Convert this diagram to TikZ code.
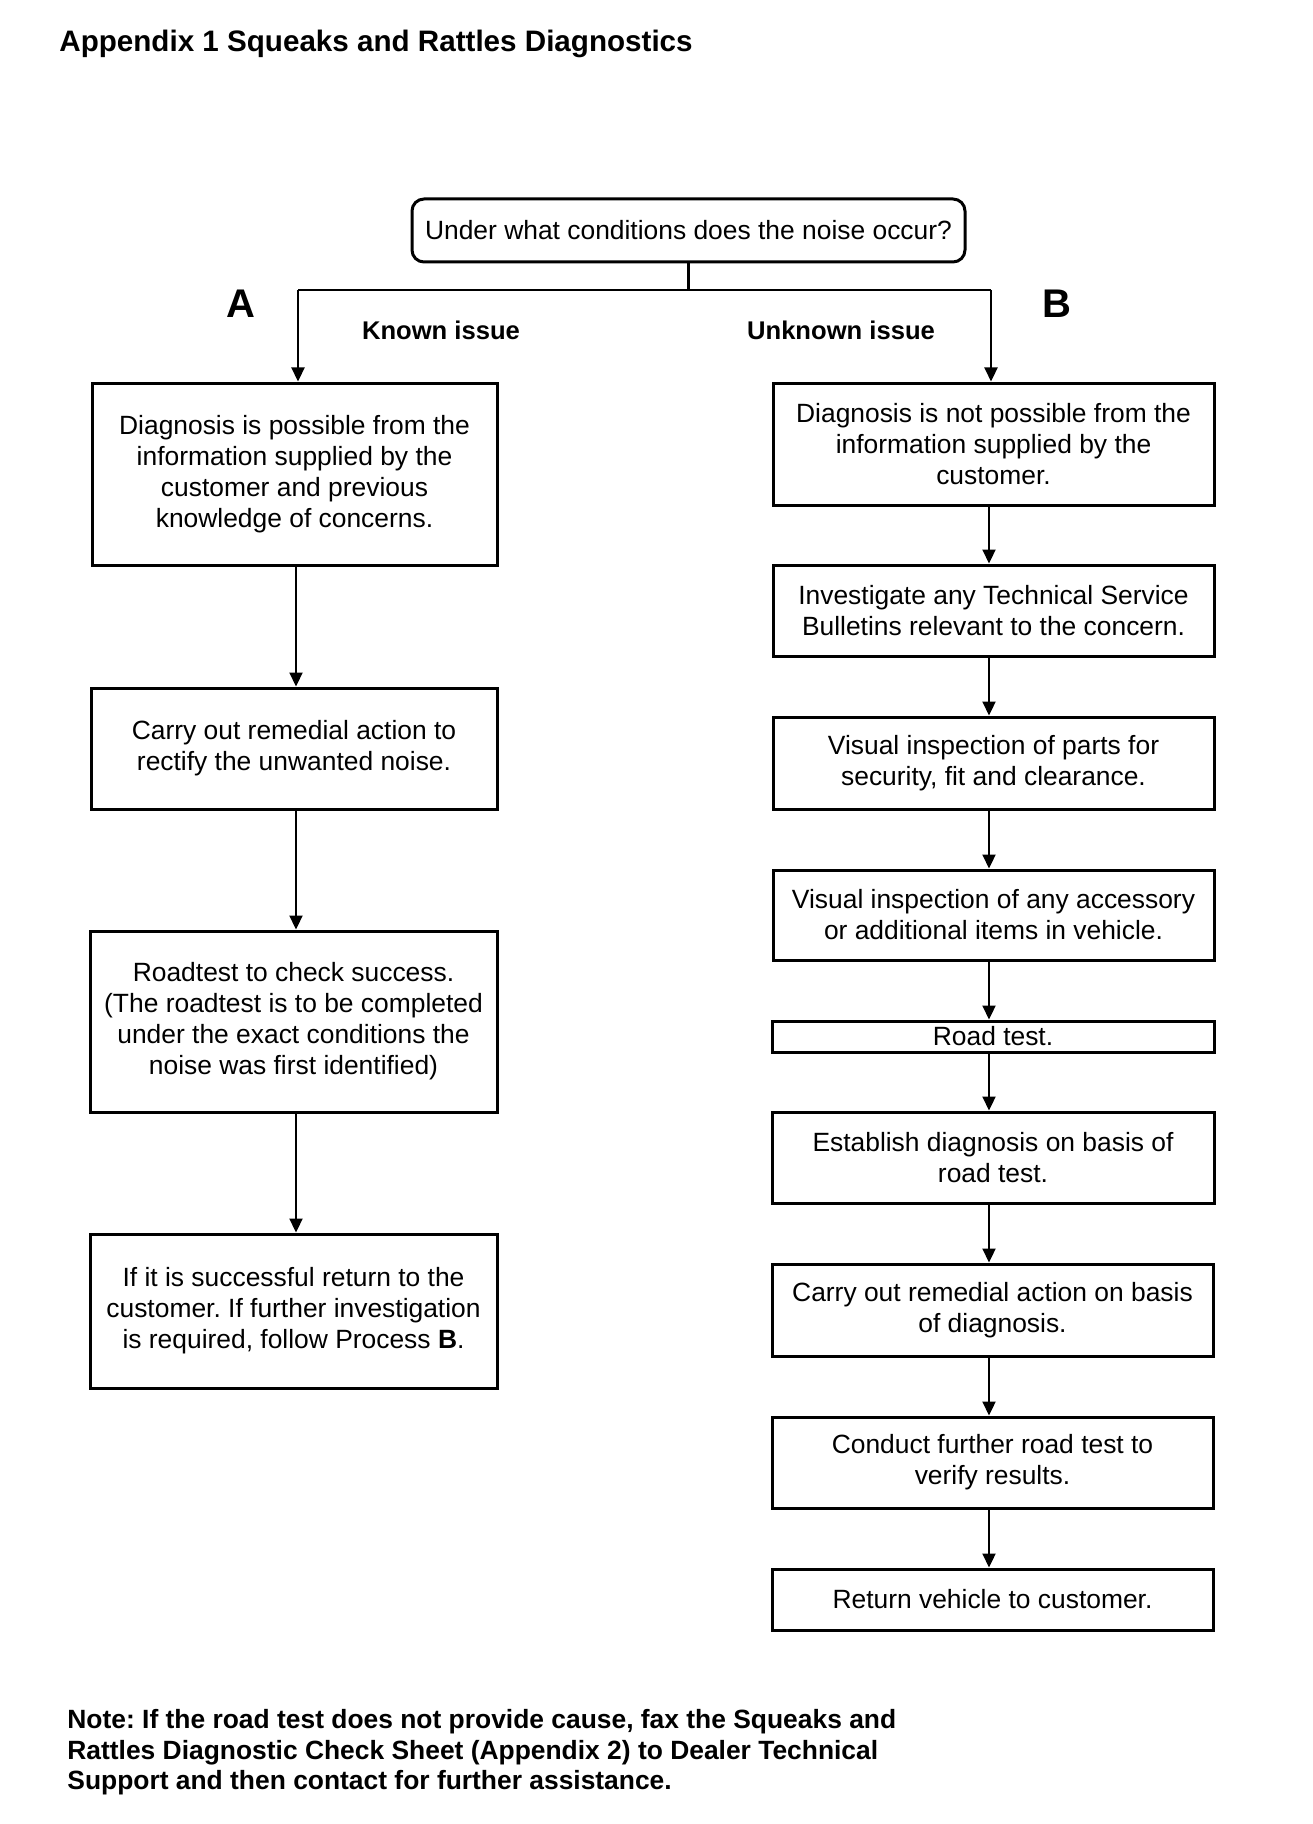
\documentclass[tikz,border=0pt]{standalone}
\usepackage{fontspec}
\setmainfont{Liberation Sans}
\usetikzlibrary{arrows.meta}
\frenchspacing
\begin{document}
\frenchspacing
\begin{tikzpicture}[x=0.5pt,y=-0.5pt,
  box/.style={draw, line width=1.5pt, align=center, inner sep=0pt,
    font=\fontsize{13.2}{15.5}\selectfont},
  sz/.style 2 args={minimum width=#1*0.5pt, minimum height=#2*0.5pt},
  arr/.style={line width=1.1pt, -{Triangle[length=7pt,width=6.5pt]}},
  lbl/.style={font=\fontsize{12.8}{15}\selectfont\bfseries, inner sep=0pt},
  big/.style={font=\fontsize{20}{24}\selectfont\bfseries, inner sep=0pt},
  notetxt/.style={font=\fontsize{13.2}{15.5}\selectfont\bfseries, inner sep=0pt, anchor=base west}]
\useasboundingbox (0,0) rectangle (1312,1824);
\fill[white] (0,0) rectangle (1312,1824);

\node[anchor=base west, inner sep=0pt, font=\fontsize{14.8}{17}\selectfont\bfseries] (title) at (59,52) {Appendix 1 Squeaks and Rattles Diagnostics};

\node[box, rounded corners=6pt, sz={553}{63}] (top) at (688.5,230.5) {Under what conditions does the noise occur?};

% left column
\node[box, sz={405}{182}] (L1) at (294.5,474) {Diagnosis is possible from the\\information supplied by the\\customer and previous\\knowledge of concerns.};
\node[box, sz={406}{121}] (L2) at (294,748.5) {Carry out remedial action to\\rectify the unwanted noise.};
\node[box, sz={407}{181}] (L3) at (293.5,1021.5) {Roadtest to check success.\\(The roadtest is to be completed\\under the exact conditions the\\noise was first identified)};
\node[box, sz={407}{154}] (L4) at (293.5,1311) {If it is successful return to the\\customer. If further investigation\\is required, follow Process \textbf{B}.};

% right column
\node[box, sz={441}{122}] (R1) at (993.5,444) {Diagnosis is not possible from the\\information supplied by the\\customer.};
\node[box, sz={441}{91}] (R2) at (993.5,610.5) {Investigate any Technical Service\\Bulletins relevant to the concern.};
\node[box, sz={441}{92}] (R3) at (993.5,763) {Visual inspection of parts for\\security, fit and clearance.};
\node[box, sz={441}{90}] (R4) at (993.5,915) {Visual inspection of any accessory\\or additional items in vehicle.};
\node[box, sz={442}{31}] (R5) at (993,1036.5) {Road test.};
\node[box, sz={442}{91}] (R6) at (993,1157.5) {Establish diagnosis on basis of\\road test.};
\node[box, sz={441}{92}] (R7) at (992.5,1310) {Carry out remedial action on basis\\of diagnosis.};
\node[box, sz={441}{91}] (R8) at (992.5,1462.5) {Conduct further road test to\\verify results.};
\node[box, sz={441}{61}] (R9) at (992.5,1599.5) {Return vehicle to customer.};

% labels
\node[big] (A) at (241,304) {A};
\node[big] (B) at (1057,304) {B};
\node[lbl] (known) at (441,330) {Known issue};
\node[lbl] (unknown) at (841,330) {Unknown issue};

% connectors
\coordinate (split) at (688.5,290);
\coordinate (xL) at (298,290);
\coordinate (xR) at (991,290);
\coordinate (cL) at (296,0);
\coordinate (cR) at (989,0);
\draw[line width=1.1pt] (top.south) -- (split);
\draw[line width=1.1pt] (xL) -- (xR);
\draw[arr] (xL) -- (L1.north -| xL);
\draw[arr] (xR) -- (R1.north -| xR);

\draw[arr] (L1.south -| cL) -- (L2.north -| cL);
\draw[arr] (L2.south -| cL) -- (L3.north -| cL);
\draw[arr] (L3.south -| cL) -- (L4.north -| cL);

\draw[arr] (R1.south -| cR) -- (R2.north -| cR);
\draw[arr] (R2.south -| cR) -- (R3.north -| cR);
\draw[arr] (R3.south -| cR) -- (R4.north -| cR);
\draw[arr] (R4.south -| cR) -- (R5.north -| cR);
\draw[arr] (R5.south -| cR) -- (R6.north -| cR);
\draw[arr] (R6.south -| cR) -- (R7.north -| cR);
\draw[arr] (R7.south -| cR) -- (R8.north -| cR);
\draw[arr] (R8.south -| cR) -- (R9.north -| cR);

% note
\node[notetxt] (note1) at (67,1728) {Note: If the road test does not provide cause, fax the Squeaks and};
\node[notetxt] (note2) at (67,1759) {Rattles Diagnostic Check Sheet (Appendix 2) to Dealer Technical};
\node[notetxt] (note3) at (67,1789) {Support and then contact for further assistance.};
\end{tikzpicture}
\end{document}
